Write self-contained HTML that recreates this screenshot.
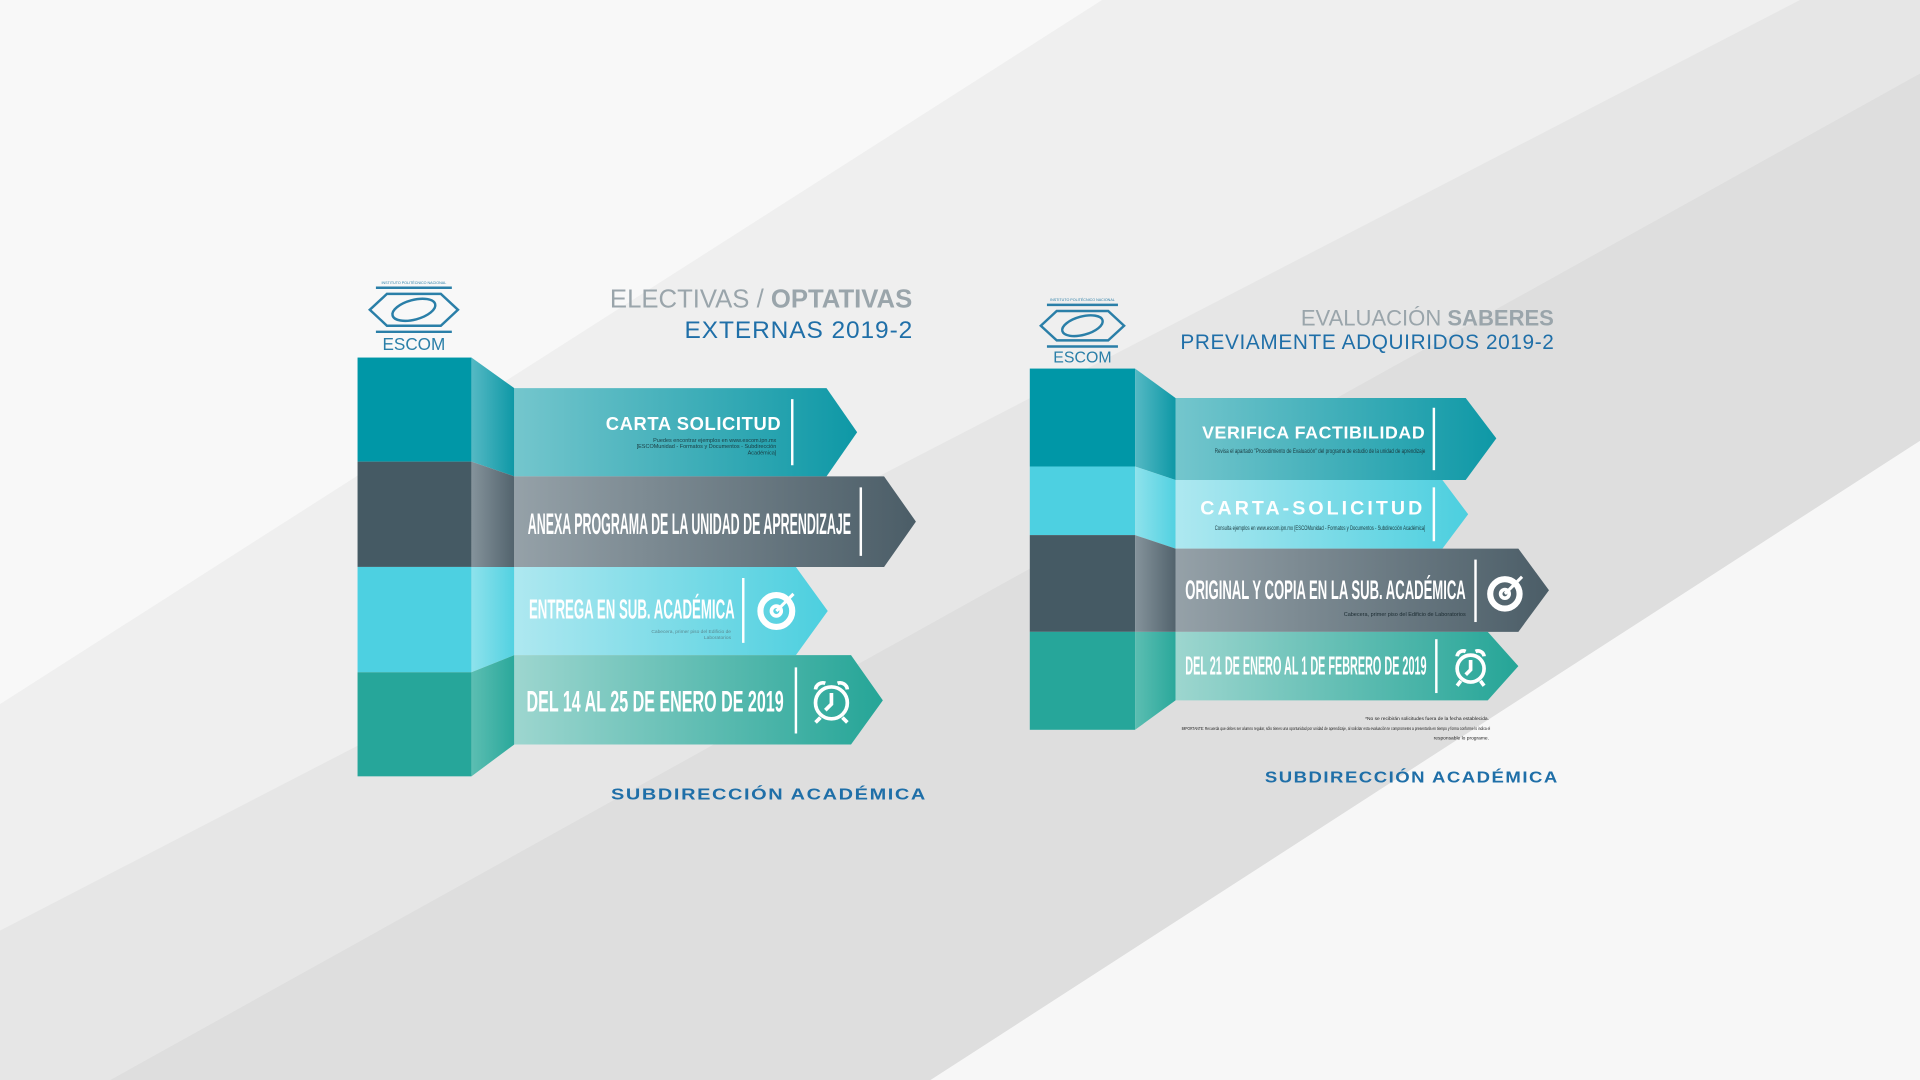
<!DOCTYPE html>
<html><head><meta charset="utf-8"><style>
html,body{margin:0;padding:0;width:1920px;height:1080px;overflow:hidden;background:#f2f2f2}
svg{display:block}
text{font-family:"Liberation Sans",sans-serif}
</style></head><body>
<svg width="1920" height="1080" viewBox="0 0 1568 882">
<defs>
<linearGradient id="gT" x1="0" x2="1"><stop offset="0" stop-color="#74c6cd"/><stop offset="1" stop-color="#0e98a6"/></linearGradient>
<linearGradient id="gD" x1="0" x2="1"><stop offset="0" stop-color="#95a1a8"/><stop offset="1" stop-color="#4b5d67"/></linearGradient>
<linearGradient id="gC" x1="0" x2="1"><stop offset="0" stop-color="#aee8f0"/><stop offset="1" stop-color="#4ccfdf"/></linearGradient>
<linearGradient id="gG" x1="0" x2="1"><stop offset="0" stop-color="#9dd6cf"/><stop offset="1" stop-color="#25a597"/></linearGradient>
<linearGradient id="fT" x1="0" x2="1"><stop offset="0" stop-color="#55b9c4"/><stop offset="1" stop-color="#0e98a6"/></linearGradient>
<linearGradient id="fD" x1="0" x2="1"><stop offset="0" stop-color="#85939b"/><stop offset="1" stop-color="#52636d"/></linearGradient>
<linearGradient id="fC" x1="0" x2="1"><stop offset="0" stop-color="#8ee2ec"/><stop offset="1" stop-color="#52d1e1"/></linearGradient>
<linearGradient id="fG" x1="0" x2="1"><stop offset="0" stop-color="#5cbeb2"/><stop offset="1" stop-color="#2aa89b"/></linearGradient>
</defs>
<g>
<rect width="1568" height="882" fill="#efefef"/>
<polygon points="0,0 900,0 0,575" fill="#f8f8f8"/>
<polygon points="1470,0 1568,0 1568,60 90,882 0,882 0,760" fill="#e6e6e6"/>
<polygon points="1568,60 1568,360 760,882 90,882" fill="#dedede"/>
<polygon points="1568,360 1568,882 760,882" fill="#f7f7f7"/>
</g>

<g>
<g fill="none" stroke="#2a7fa8" stroke-width="2">
<text x="338" y="232" font-size="3" fill="#2a7fa8" stroke="none" text-anchor="middle">INSTITUTO POLITÉCNICO NACIONAL</text>
<line x1="307" y1="235" x2="369" y2="235"/>
<polygon points="302,253 316,240 360,240 374,253 360,266 316,266"/>
<ellipse cx="338" cy="253" rx="18" ry="8" transform="rotate(-15 338 253)"/>
<line x1="307" y1="271" x2="369" y2="271"/>
<text x="338" y="286" font-size="14" fill="#2a7fa8" stroke="none" text-anchor="middle">ESCOM</text>
</g>
<text x="745" y="251" font-size="21" fill="#9aa5ab" text-anchor="end">ELECTIVAS / <tspan font-weight="bold">OPTATIVAS</tspan></text>
<text x="559" y="276" font-size="20" fill="#1f6fa8" textLength="186" lengthAdjust="spacing">EXTERNAS   2019-2</text>

<rect x="292" y="292" width="93" height="85" fill="#0097a7"/>
<rect x="292" y="377" width="93" height="86" fill="#455a64"/>
<rect x="292" y="463" width="93" height="86" fill="#4dd0e1"/>
<rect x="292" y="549" width="93" height="85" fill="#26a69a"/>
<polygon points="385,292 420,317 420,389 385,377" fill="url(#fT)"/>
<polygon points="385,377 420,389 420,463 385,463" fill="url(#fD)"/>
<polygon points="385,463 420,463 420,535 385,549" fill="url(#fC)"/>
<polygon points="385,549 420,535 420,608 385,634" fill="url(#fG)"/>

<g>
<polygon points="420,317 675,317 700,353 675,389 420,389" fill="url(#gT)"/>
<text x="638" y="351" font-size="15" font-weight="bold" fill="#fff" text-anchor="end" letter-spacing="0.5">CARTA SOLICITUD</text>
<text x="634" y="361" font-size="4.5" fill="#1a3a40" text-anchor="end">Puedes encontrar ejemplos en www.escom.ipn.mx</text>
<text x="634" y="366" font-size="4.5" fill="#1a3a40" text-anchor="end">[ESCOMunidad - Formatos y Documentos - Subdirección</text>
<text x="634" y="371" font-size="4.5" fill="#1a3a40" text-anchor="end">Académica]</text>
<line x1="647" y1="326" x2="647" y2="380" stroke="#fff" stroke-width="2"/>
</g>
<g>
<polygon points="420,389 722,389 748,426 722,463 420,463" fill="url(#gD)"/>
<text x="431" y="436" font-size="24" font-weight="bold" fill="#fff" textLength="264" lengthAdjust="spacingAndGlyphs">ANEXA PROGRAMA DE LA UNIDAD DE APRENDIZAJE</text>
<line x1="703" y1="398" x2="703" y2="454" stroke="#fff" stroke-width="2"/>
</g>
<g>
<polygon points="420,463 650,463 676,499 650,535 420,535" fill="url(#gC)"/>
<text x="432" y="505" font-size="23" font-weight="bold" fill="#fff" textLength="168" lengthAdjust="spacingAndGlyphs">ENTREGA EN SUB. ACADÉMICA</text>
<text x="597" y="517" font-size="4" fill="#5a8a92" text-anchor="end">Cabecera, primer piso del Edificio de</text>
<text x="597" y="522" font-size="4" fill="#5a8a92" text-anchor="end">Laboratorios</text>
<line x1="607" y1="472" x2="607" y2="525" stroke="#fff" stroke-width="2"/>
<g fill="none" stroke="#fff"><circle cx="634" cy="499" r="13" stroke-width="5"/><circle cx="634" cy="499" r="4" stroke-width="3"/><line x1="634" y1="499" x2="648" y2="485" stroke-width="2.5"/></g>
</g>
<g>
<polygon points="420,535 695,535 721,572 695,608 420,608" fill="url(#gG)"/>
<text x="430" y="581" font-size="24" font-weight="bold" fill="#fff" textLength="210" lengthAdjust="spacingAndGlyphs">DEL 14 AL 25 DE ENERO DE 2019</text>
<line x1="650" y1="545" x2="650" y2="599" stroke="#fff" stroke-width="2"/>
<g fill="none" stroke="#fff" stroke-width="3"><circle cx="679" cy="574" r="13"/><path d="M666,563 a6,6 0 0 1 8,-5 M692,563 a6,6 0 0 0 -8,-5 M679,566 V575 L674,580 M670,586 l-4,4 M688,586 l4,4"/></g>
</g>
<text x="499" y="653" font-size="12.5" font-weight="bold" fill="#1f6fa8" textLength="258" lengthAdjust="spacingAndGlyphs" letter-spacing="1">SUBDIRECCIÓN ACADÉMICA</text>
</g>

<g>
<g fill="none" stroke="#2a7fa8" stroke-width="2">
<text x="884" y="246" font-size="3" fill="#2a7fa8" stroke="none" text-anchor="middle">INSTITUTO POLITÉCNICO NACIONAL</text>
<line x1="855" y1="249" x2="913" y2="249"/>
<polygon points="850,266 863,254 905,254 918,266 905,278 863,278"/>
<ellipse cx="884" cy="266" rx="17" ry="7.5" transform="rotate(-15 884 266)"/>
<line x1="855" y1="283" x2="913" y2="283"/>
<text x="884" y="296" font-size="13" fill="#2a7fa8" stroke="none" text-anchor="middle">ESCOM</text>
</g>
<text x="1269" y="266" font-size="18" fill="#9aa5ab" text-anchor="end">EVALUACIÓN <tspan font-weight="bold">SABERES</tspan></text>
<text x="964" y="285" font-size="17" fill="#1f6fa8" textLength="305" lengthAdjust="spacing">PREVIAMENTE ADQUIRIDOS  2019-2</text>

<rect x="841" y="301" width="86" height="80" fill="#0097a7"/>
<rect x="841" y="381" width="86" height="56" fill="#4dd0e1"/>
<rect x="841" y="437" width="86" height="79" fill="#455a64"/>
<rect x="841" y="516" width="86" height="80" fill="#26a69a"/>
<polygon points="927,301 960,325 960,392 927,381" fill="url(#fT)"/>
<polygon points="927,381 960,392 960,448 927,437" fill="url(#fC)"/>
<polygon points="927,437 960,448 960,516 927,516" fill="url(#fD)"/>
<polygon points="927,516 960,516 960,572 927,596" fill="url(#fG)"/>

<g>
<polygon points="960,325 1197,325 1222,358 1197,392 960,392" fill="url(#gT)"/>
<text x="1164" y="358" font-size="14.5" font-weight="bold" fill="#fff" text-anchor="end" letter-spacing="0.5">VERIFICA FACTIBILIDAD</text>
<text x="1164" y="370" font-size="5" fill="#1a3a40" text-anchor="end" textLength="172" lengthAdjust="spacingAndGlyphs">Revisa el apartado "Procedimiento de Evaluación" del programa de estudio de la unidad de aprendizaje</text>
<line x1="1171" y1="333" x2="1171" y2="384" stroke="#fff" stroke-width="2"/>
</g>
<g>
<polygon points="960,392 1178,392 1199,420 1178,448 960,448" fill="url(#gC)"/>
<text x="1164" y="420" font-size="16" font-weight="bold" fill="#fff" text-anchor="end" letter-spacing="2.5">CARTA-SOLICITUD</text>
<text x="1164" y="433" font-size="5" fill="#1a3a40" text-anchor="end" textLength="172" lengthAdjust="spacingAndGlyphs">Consulta ejemplos en www.escom.ipn.mx [ESCOMunidad - Formatos y Documentos - Subdirección Académica]</text>
<line x1="1171" y1="398" x2="1171" y2="442" stroke="#fff" stroke-width="2"/>
</g>
<g>
<polygon points="960,448 1240,448 1265,482 1240,516 960,516" fill="url(#gD)"/>
<text x="968" y="489" font-size="22" font-weight="bold" fill="#fff" textLength="229" lengthAdjust="spacingAndGlyphs">ORIGINAL Y COPIA EN LA SUB. ACADÉMICA</text>
<text x="1197" y="503" font-size="4.5" fill="#1a2a30" text-anchor="end">Cabecera, primer piso del Edificio de Laboratorios</text>
<line x1="1205" y1="457" x2="1205" y2="508" stroke="#fff" stroke-width="2"/>
<g fill="none" stroke="#fff"><circle cx="1229" cy="485" r="12" stroke-width="5"/><circle cx="1229" cy="485" r="3.5" stroke-width="3"/><line x1="1229" y1="485" x2="1243" y2="471" stroke-width="2.5"/></g>
</g>
<g>
<polygon points="960,516 1215,516 1240,544 1215,572 960,572" fill="url(#gG)"/>
<text x="968" y="551" font-size="21" font-weight="bold" fill="#fff" textLength="197" lengthAdjust="spacingAndGlyphs">DEL 21 DE ENERO AL 1 DE FEBRERO DE 2019</text>
<line x1="1173" y1="522" x2="1173" y2="566" stroke="#fff" stroke-width="2"/>
<g fill="none" stroke="#fff" stroke-width="3"><circle cx="1201" cy="546" r="11"/><path d="M1190,536 a5,5 0 0 1 7,-4 M1212,536 a5,5 0 0 0 -7,-4 M1201,539 V547 L1197,551 M1193,556 l-3,4 M1209,556 l3,4"/></g>
</g>
<g fill="#222" font-size="4">
<text x="1216" y="588" text-anchor="end">*No se recibirán solicitudes fuera de la fecha establecida.</text>
<text x="965" y="596" textLength="252" lengthAdjust="spacingAndGlyphs">IMPORTANTE: Recuerda que debes ser alumno regular, sólo tienes una oportunidad por unidad de aprendizaje, al solicitar esta evaluación te comprometes a presentarla en tiempo y forma conforme lo indica el</text>
<text x="1216" y="604" text-anchor="end">responsable lo programe.</text>
</g>
<text x="1033" y="639" font-size="12.5" font-weight="bold" fill="#1f6fa8" textLength="240" lengthAdjust="spacingAndGlyphs" letter-spacing="1">SUBDIRECCIÓN ACADÉMICA</text>
</g>
</svg>
</body></html>
